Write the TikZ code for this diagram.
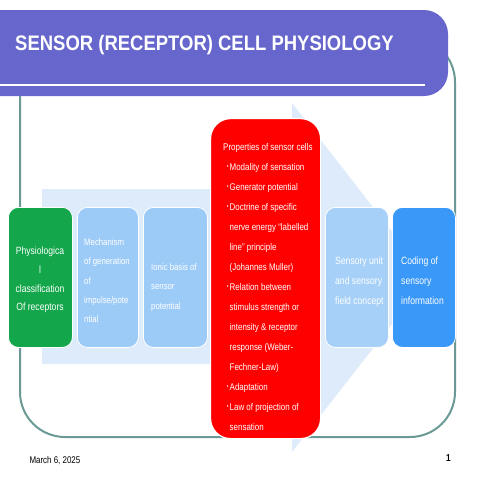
\documentclass[tikz,border=0pt]{standalone}
\usepackage{fontspec}
\setmainfont{Liberation Sans}[FakeStretch=0.82]
\newfontfamily\titlefont{Liberation Sans}[FakeStretch=0.88]
\definecolor{bannerc}{HTML}{6666CC}
\definecolor{framec}{HTML}{6B9A96}
\definecolor{arrowc}{HTML}{DDEBFB}
\definecolor{greenc}{HTML}{13A64B}
\definecolor{lblue}{HTML}{9DCBF8}
\definecolor{lblueb}{HTML}{A6D0F8}
\definecolor{dblue}{HTML}{3A98F8}
\definecolor{redc}{HTML}{FF0000}
\newcommand{\bl}{\llap{\raisebox{2.2pt}{\fontsize{6}{6}\selectfont\textbullet}\hspace{1.2pt}}}
\begin{document}
\begin{tikzpicture}[x=1pt,y=-1pt,
  box/.style={draw=white, line width=0.8pt, rounded corners=10pt, minimum width=64pt, minimum height=140pt, anchor=north west, inner sep=0pt},
  txt/.style={anchor=north west, inner sep=0pt, align=left, text=white},
  big/.style={font=\fontsize{10.5}{19.6}\selectfont},
  small/.style={font=\fontsize{9.5}{19.3}\selectfont}]
\useasboundingbox (0,0) rectangle (480,480);
\fill[white] (0,0) rectangle (480,480);
% frame
\draw[framec, line width=2pt, rounded corners=45pt] (20,37) rectangle (455,437);
% background arrow
\fill[arrowc] (42,189) -- (292,189) -- (292,103) -- (428,278) -- (292,452) -- (292,364) -- (42,364) -- cycle;
% banner
\fill[bannerc, rounded corners=24pt] (-40,10) rectangle (448,96);
\draw[white, line width=1.5pt] (-5,85) -- (425,85);
\node[anchor=base west, inner sep=0pt, text=white, font=\titlefont\bfseries\fontsize{21}{21}\selectfont] (title) at (15,50) {SENSOR (RECEPTOR) CELL PHYSIOLOGY};
% boxes
\node[box, fill=greenc, minimum width=64pt] (b1) at (8,207) {};
\node[box, fill=lblue, minimum width=61pt] (b2) at (77,207) {};
\node[box, fill=lblue, minimum width=64pt] (b3) at (143,207) {};
\node[box, fill=redc, line width=1.2pt, rounded corners=20pt, minimum width=110pt, minimum height=320pt] (b4) at (210,118) {};
\node[box, fill=lblueb, minimum width=63pt] (b5) at (325,207) {};
\node[box, fill=dblue, minimum width=63pt] (b6) at (392,207) {};
% texts
\node[txt, big, align=center, anchor=north, font=\fontsize{10.5}{18.7}\selectfont] (t1) at (40,246.8) {Physiologica\\l\\classification\\Of receptors};
\node[txt, small] (t2) at (84,238.5) {Mechanism\\of generation\\of\\impulse/pote\\ntial};
\node[txt, small] (t3) at (151,263.5) {Ionic basis of\\sensor\\potential};
\node[txt, font=\fontsize{9.7}{20}\selectfont] (t4) at (229.5,143.4) {\hspace*{-6.5pt}Properties of sensor cells\\
\bl Modality of sensation\\
\bl Generator potential\\
\bl Doctrine of specific\\
nerve energy “labelled\\
line” principle\\
(Johannes Muller)\\
\bl Relation between\\
stimulus strength or\\
intensity \& receptor\\
response (Weber-\\
Fechner-Law)\\
\bl Adaptation\\
\bl Law of projection of\\
sensation};
\node[txt, big, font=\fontsize{10.5}{20}\selectfont] (t5) at (335,257) {Sensory unit\\and sensory\\field concept};
\node[txt, big, font=\fontsize{10.5}{20}\selectfont] (t6) at (401,257) {Coding of\\sensory\\information};
% footer
\node[anchor=base west, inner sep=0pt, font=\fontsize{9.7}{10}\selectfont] (date) at (29.3,463.5) {March 6, 2025};
\node[anchor=base, inner sep=0pt, font=\bfseries\fontsize{10}{10}\selectfont] (page) at (448.3,461.7) {1};
\end{tikzpicture}
\end{document}
